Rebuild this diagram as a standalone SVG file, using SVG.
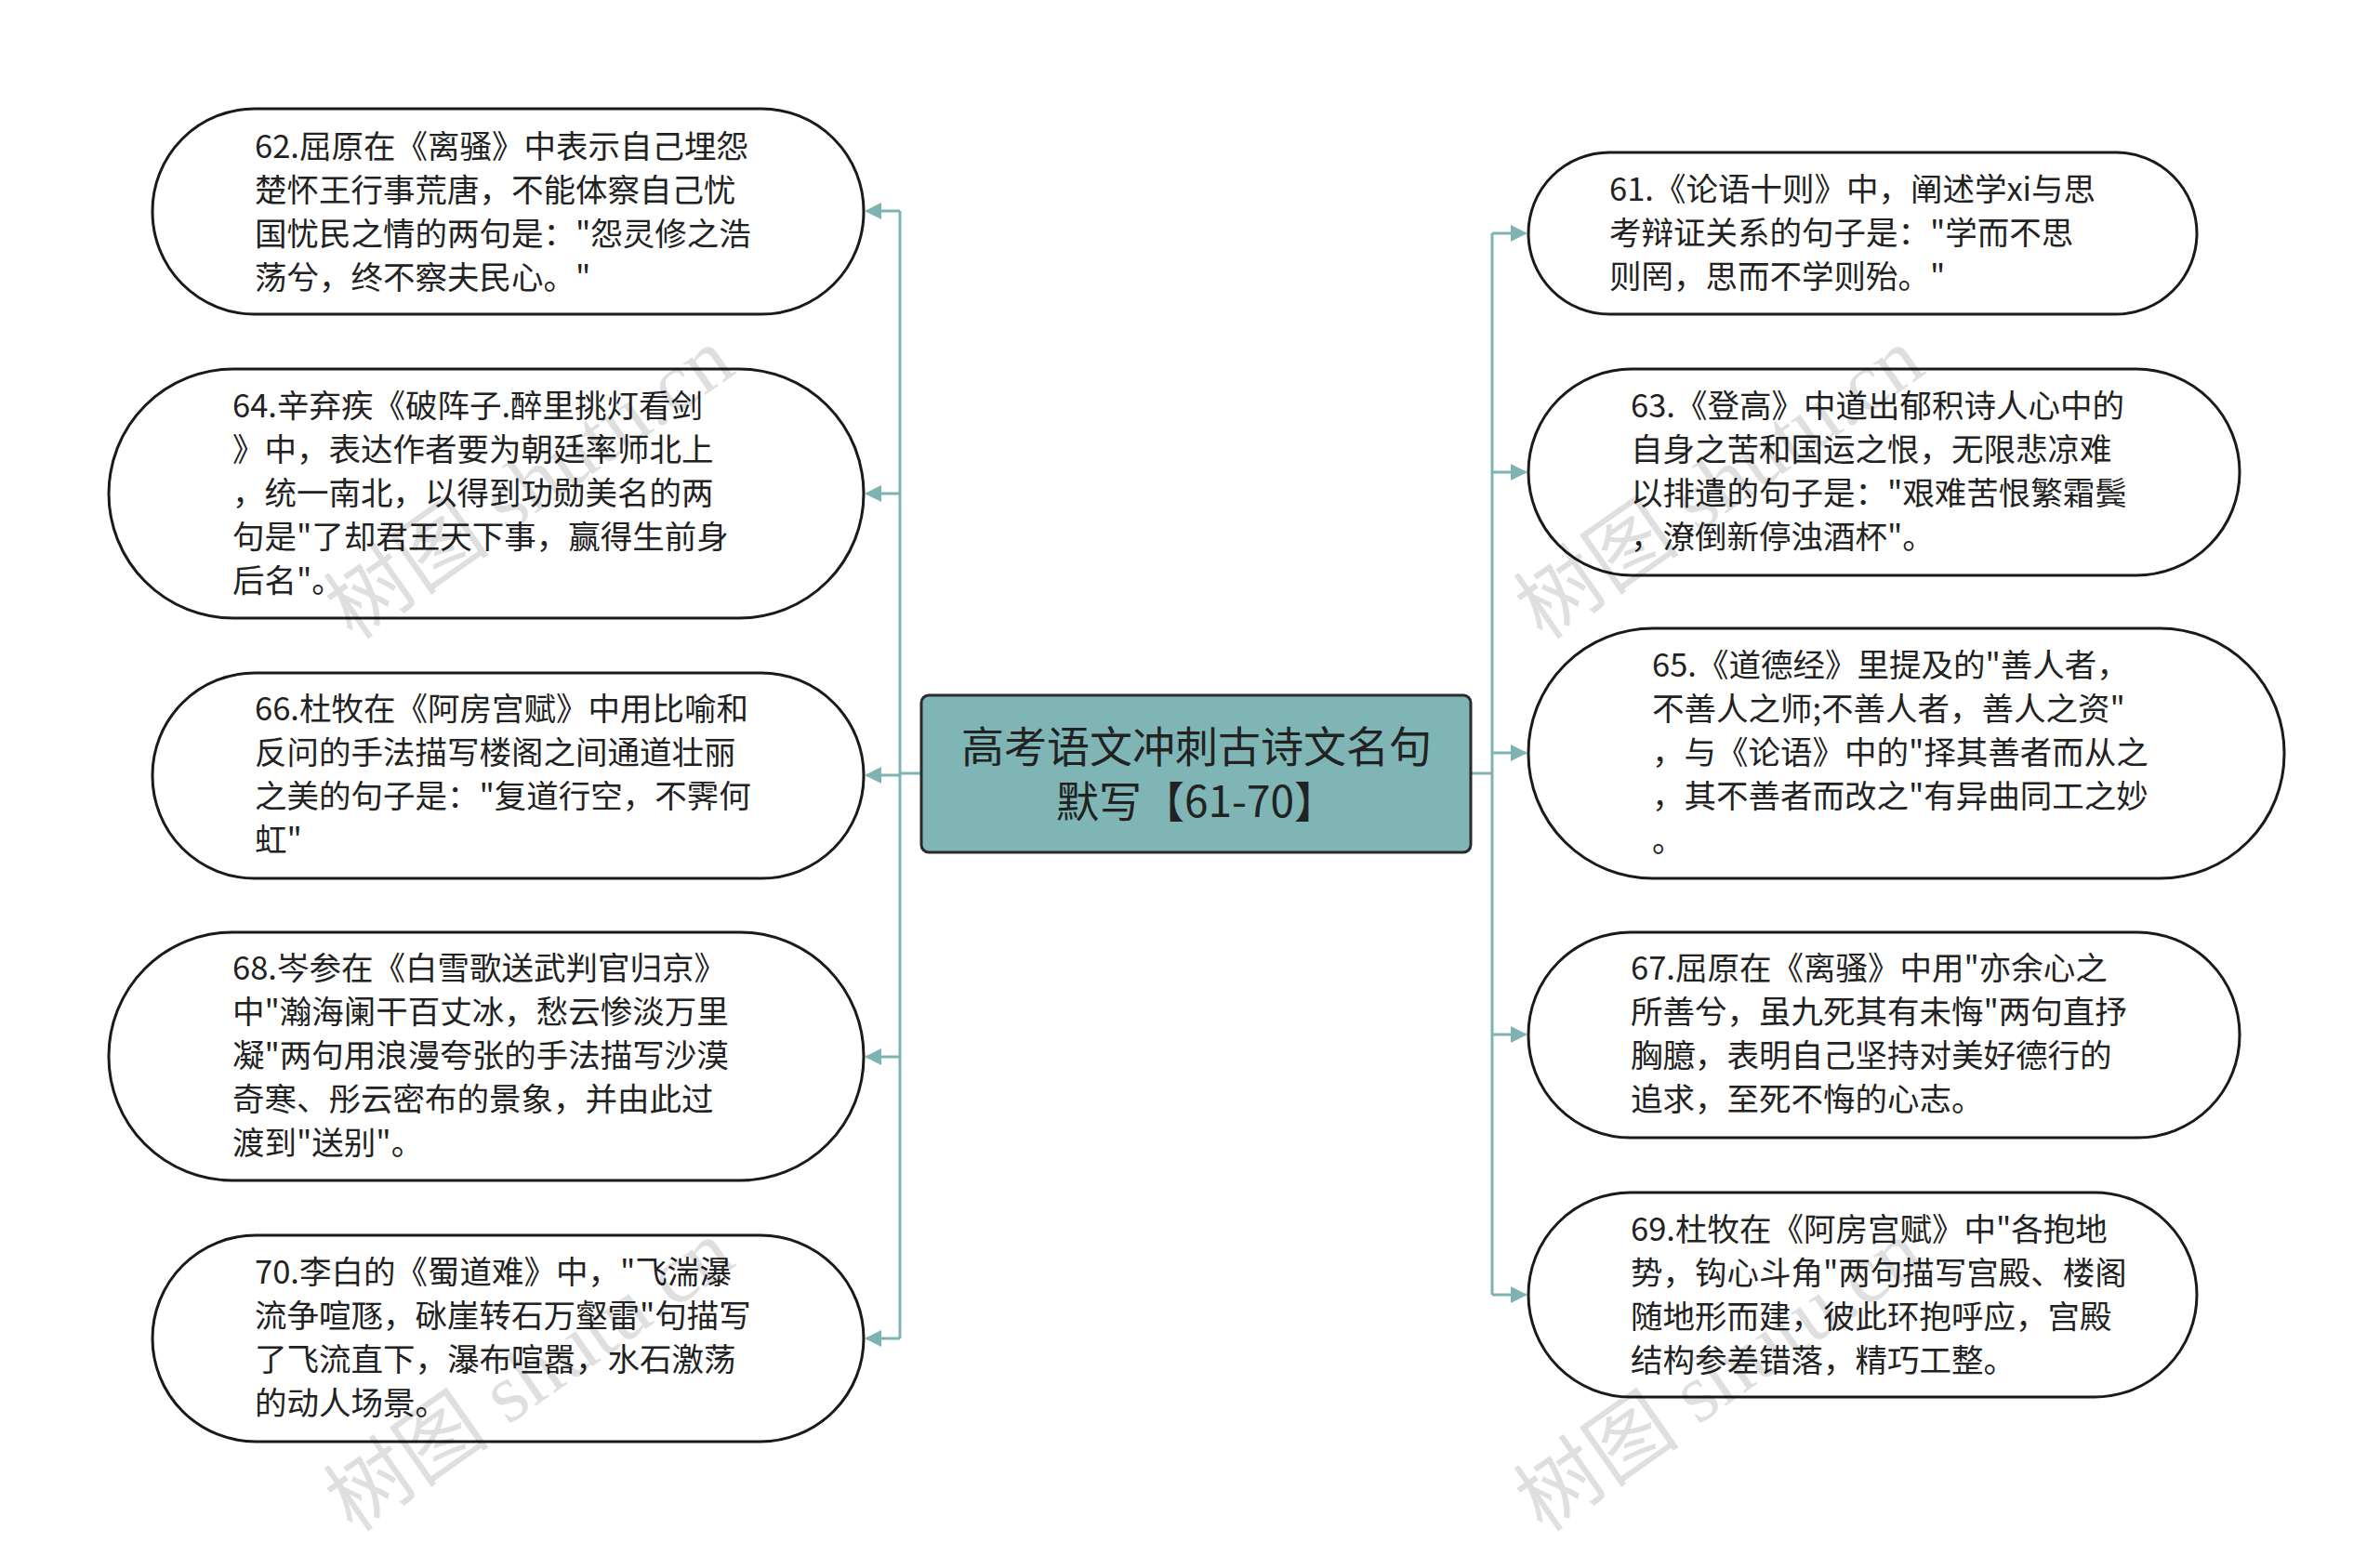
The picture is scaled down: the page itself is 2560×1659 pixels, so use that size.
<svg xmlns="http://www.w3.org/2000/svg" width="2560" height="1659" viewBox="0 0 2560 1659">
<style>
.n{fill:#fff;stroke:#1a1a1a;stroke-width:3}
.t{font-family:"Noto Sans CJK SC",sans-serif;font-size:34.5px;fill:#222}
.c{fill:none;stroke:#7fb3b3;stroke-width:3}
.wm{font-family:"Liberation Serif","Noto Sans CJK SC",serif;font-size:90px;fill:#000;opacity:0.12}
</style>
<defs><marker id="a" viewBox="0 0 10 10" refX="9" refY="5" markerWidth="6" markerHeight="6" orient="auto"><path d="M0,0L10,5L0,10z" fill="#7fb3b3"/></marker></defs>
<rect width="2560" height="1659" fill="#fff"/>
<g id="connectors">
<path class="c" d="M991,832H968M968,227V1440"/>
<path class="c" marker-end="url(#a)" d="M968,227H932"/>
<path class="c" marker-end="url(#a)" d="M968,531H932"/>
<path class="c" marker-end="url(#a)" d="M968,834H932"/>
<path class="c" marker-end="url(#a)" d="M968,1137H932"/>
<path class="c" marker-end="url(#a)" d="M968,1440H932"/>
<path class="c" d="M1582,832H1605M1605,251V1393"/>
<path class="c" marker-end="url(#a)" d="M1605,251H1641"/>
<path class="c" marker-end="url(#a)" d="M1605,508H1641"/>
<path class="c" marker-end="url(#a)" d="M1605,810H1641"/>
<path class="c" marker-end="url(#a)" d="M1605,1113H1641"/>
<path class="c" marker-end="url(#a)" d="M1605,1393H1641"/>
</g>
<g id="center"><rect x="991" y="748" width="591" height="169" rx="8" fill="#7fb5b5" stroke="#2a2a2a" stroke-width="3"/>
<text x="1287" y="820" text-anchor="middle" font-family="Noto Sans CJK SC,sans-serif" font-size="46" fill="#222">高考语文冲刺古诗文名句</text>
<text x="1287" y="879" text-anchor="middle" font-family="Noto Sans CJK SC,sans-serif" font-size="46" fill="#222">默写【61-70】</text></g>
<g id="n62"><rect class="n" x="164" y="117" width="765" height="221" rx="110"/><text class="t" x="274" y="170"><tspan>62.屈原在《离骚》中表示自己埋怨</tspan><tspan x="274" dy="47">楚怀王行事荒唐，不能体察自己忧</tspan><tspan x="274" dy="47">国忧民之情的两句是："怨灵修之浩</tspan><tspan x="274" dy="47">荡兮，终不察夫民心。"</tspan></text></g>
<g id="n64"><rect class="n" x="117" y="397" width="812" height="268" rx="134"/><text class="t" x="250" y="449"><tspan>64.辛弃疾《破阵子.醉里挑灯看剑</tspan><tspan x="250" dy="47">》中，表达作者要为朝廷率师北上</tspan><tspan x="250" dy="47">，统一南北，以得到功勋美名的两</tspan><tspan x="250" dy="47">句是"了却君王天下事，赢得生前身</tspan><tspan x="250" dy="47">后名"。</tspan></text></g>
<g id="n66"><rect class="n" x="164" y="724" width="765" height="221" rx="110"/><text class="t" x="274" y="775"><tspan>66.杜牧在《阿房宫赋》中用比喻和</tspan><tspan x="274" dy="47">反问的手法描写楼阁之间通道壮丽</tspan><tspan x="274" dy="47">之美的句子是："复道行空，不霁何</tspan><tspan x="274" dy="47">虹"</tspan></text></g>
<g id="n68"><rect class="n" x="117" y="1003" width="812" height="267" rx="133"/><text class="t" x="250" y="1054"><tspan>68.岑参在《白雪歌送武判官归京》</tspan><tspan x="250" dy="47">中"瀚海阑干百丈冰，愁云惨淡万里</tspan><tspan x="250" dy="47">凝"两句用浪漫夸张的手法描写沙漠</tspan><tspan x="250" dy="47">奇寒、彤云密布的景象，并由此过</tspan><tspan x="250" dy="47">渡到"送别"。</tspan></text></g>
<g id="n70"><rect class="n" x="164" y="1329" width="765" height="222" rx="111"/><text class="t" x="274" y="1381"><tspan>70.李白的《蜀道难》中，"飞湍瀑</tspan><tspan x="274" dy="47">流争喧豗，砯崖转石万壑雷"句描写</tspan><tspan x="274" dy="47">了飞流直下，瀑布喧嚣，水石激荡</tspan><tspan x="274" dy="47">的动人场景。</tspan></text></g>
<g id="n61"><rect class="n" x="1644" y="164" width="719" height="174" rx="87"/><text class="t" x="1731" y="216"><tspan>61.《论语十则》中，阐述学xi与思</tspan><tspan x="1731" dy="47">考辩证关系的句子是："学而不思</tspan><tspan x="1731" dy="47">则罔，思而不学则殆。"</tspan></text></g>
<g id="n63"><rect class="n" x="1644" y="397" width="765" height="222" rx="111"/><text class="t" x="1754" y="449"><tspan>63.《登高》中道出郁积诗人心中的</tspan><tspan x="1754" dy="47">自身之苦和国运之恨，无限悲凉难</tspan><tspan x="1754" dy="47">以排遣的句子是："艰难苦恨繁霜鬓</tspan><tspan x="1754" dy="47">，潦倒新停浊酒杯"。</tspan></text></g>
<g id="n65"><rect class="n" x="1644" y="676" width="813" height="269" rx="134"/><text class="t" x="1777" y="728"><tspan>65.《道德经》里提及的"善人者，</tspan><tspan x="1777" dy="47">不善人之师;不善人者，善人之资"</tspan><tspan x="1777" dy="47">，与《论语》中的"择其善者而从之</tspan><tspan x="1777" dy="47">，其不善者而改之"有异曲同工之妙</tspan><tspan x="1777" dy="47">。</tspan></text></g>
<g id="n67"><rect class="n" x="1644" y="1003" width="765" height="221" rx="110"/><text class="t" x="1754" y="1054"><tspan>67.屈原在《离骚》中用"亦余心之</tspan><tspan x="1754" dy="47">所善兮，虽九死其有未悔"两句直抒</tspan><tspan x="1754" dy="47">胸臆，表明自己坚持对美好德行的</tspan><tspan x="1754" dy="47">追求，至死不悔的心志。</tspan></text></g>
<g id="n69"><rect class="n" x="1644" y="1283" width="719" height="220" rx="110"/><text class="t" x="1754" y="1335"><tspan>69.杜牧在《阿房宫赋》中"各抱地</tspan><tspan x="1754" dy="47">势，钩心斗角"两句描写宫殿、楼阁</tspan><tspan x="1754" dy="47">随地形而建，彼此环抱呼应，宫殿</tspan><tspan x="1754" dy="47">结构参差错落，精巧工整。</tspan></text></g>
<g id="watermarks">
<text class="wm" transform="translate(380,690) rotate(-35)">树图 shutu.cn</text>
<text class="wm" transform="translate(1660,690) rotate(-35)">树图 shutu.cn</text>
<text class="wm" transform="translate(380,1650) rotate(-35)">树图 shutu.cn</text>
<text class="wm" transform="translate(1660,1650) rotate(-35)">树图 shutu.cn</text>
</g>
</svg>
